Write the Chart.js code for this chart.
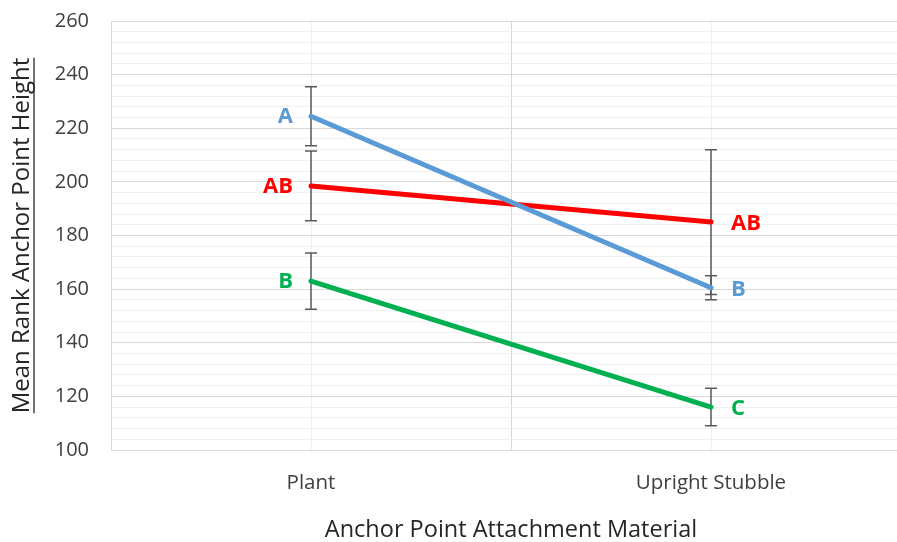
<!DOCTYPE html>
<html>
<head>
<meta charset="utf-8">
<script src="https://cdn.jsdelivr.net/npm/chart.js@4/dist/chart.umd.min.js"></script>
<style>
  html, body { margin: 0; padding: 0; background: #fff; overflow: hidden; }
  #wrap { width: 912px; height: 542px; }
</style>
</head>
<body>
<div id="wrap"><canvas id="rankChart" width="911" height="542"></canvas></div>
<script>
// categories on the x axis
const categories = ['Plant', 'Upright Stubble'];

// mean rank values, one array per line
const blueMeans = [224.5, 160.5];
const redMeans = [198.5, 185];
const greenMeans = [163, 116];

// error bar half widths
const blueErr = [11, 4.5];
const redErr = [13, 27];
const greenErr = [10.5, 7];

// significance letters next to each point
const blueLetters = ['A', 'B'];
const redLetters = ['AB', 'AB'];
const greenLetters = ['B', 'C'];

const FONT = "'Open Sans', 'Liberation Sans', sans-serif";

function toPoints(arr) {
    return arr.map((v, i) => ({ x: i, y: v }));
}

// draws error bars under the lines, using the chart scales
const errorBars = {
    id: 'errorBars',
    beforeDatasetsDraw(chart) {
        const ctx = chart.ctx;
        const xs = chart.scales.x, ys = chart.scales.y;
        ctx.save();
        ctx.strokeStyle = '#595959';
        ctx.lineWidth = 1.5;
        chart.data.datasets.forEach(ds => {
            ds.data.forEach((p, i) => {
                const e = ds.errors[i];
                const px = xs.getPixelForValue(p.x);
                const top = ys.getPixelForValue(p.y + e);
                const bot = ys.getPixelForValue(p.y - e);
                ctx.beginPath();
                ctx.moveTo(px, top); ctx.lineTo(px, bot);
                ctx.moveTo(px - 6, top); ctx.lineTo(px + 6, top);
                ctx.moveTo(px - 6, bot); ctx.lineTo(px + 6, bot);
                ctx.stroke();
            });
        });
        ctx.restore();
    }
};

// letters beside each point, plus the underline of the y title
const letterLabels = {
    id: 'letterLabels',
    afterDraw(chart) {
        const ctx = chart.ctx;
        const xs = chart.scales.x, ys = chart.scales.y;
        ctx.save();
        ctx.font = 'bold 22px ' + FONT;
        ctx.textBaseline = 'middle';
        chart.data.datasets.forEach(ds => {
            ctx.fillStyle = ds.borderColor;
            ds.data.forEach((p, i) => {
                const px = xs.getPixelForValue(p.x);
                const py = ys.getPixelForValue(p.y);
                if (i === 0) {
                    ctx.textAlign = 'right';
                    ctx.fillText(ds.letters[i], px - 18, py + 1);
                } else {
                    ctx.textAlign = 'left';
                    ctx.fillText(ds.letters[i], px + 20, py + 2);
                }
            });
        });

        // underline for the rotated y axis title
        const t = ys.options.title;
        ctx.font = t.font.size + 'px ' + FONT;
        const w = ctx.measureText(t.text).width;
        const cy = (chart.chartArea.top + chart.chartArea.bottom) / 2;
        ctx.strokeStyle = '#262626';
        ctx.lineWidth = 1.3;
        ctx.beginPath();
        ctx.moveTo(34, cy - w / 2);
        ctx.lineTo(34, cy + w / 2);
        ctx.stroke();
        ctx.restore();
    }
};

const ctx = document.getElementById('rankChart').getContext('2d');
new Chart(ctx, {
    type: 'line',
    data: {
        datasets: [
            { data: toPoints(blueMeans), errors: blueErr, letters: blueLetters, borderColor: '#5B9BD5' },
            { data: toPoints(redMeans), errors: redErr, letters: redLetters, borderColor: '#FF0000' },
            { data: toPoints(greenMeans), errors: greenErr, letters: greenLetters, borderColor: '#00B050' }
        ].map(ds => Object.assign(ds, {
            borderWidth: 5,
            pointRadius: 0,
            fill: false,
            tension: 0,
            borderCapStyle: 'round'
        }))
    },
    options: {
        responsive: false,
        animation: false,
        events: [],
        layout: { padding: { top: 21, right: 0, left: 0, bottom: 0 } },
        plugins: { legend: { display: false }, tooltip: { enabled: false } },
        scales: {
            x: {
                type: 'linear',
                min: -0.5,
                max: 1.5,
                afterBuildTicks: s => { s.ticks = [-0.5, 0, 0.5, 1, 1.5].map(v => ({ value: v })); },
                afterFit: s => { s.height = 92; s.paddingLeft = 0; s.paddingRight = 0; },
                border: { color: '#d9d9d9' },
                grid: {
                    drawTicks: false,
                    color: c => Number.isInteger(c.tick.value) ? '#f0f0f0' : '#d9d9d9'
                },
                ticks: {
                    autoSkip: false,
                    maxRotation: 0,
                    padding: 21,
                    color: '#404040',
                    font: { family: FONT, size: 20.5 },
                    callback: v => Number.isInteger(v) ? categories[v] : ''
                },
                title: {
                    display: true,
                    text: 'Anchor Point Attachment Material',
                    color: '#262626',
                    font: { family: FONT, size: 23.5, lineHeight: 1 },
                    padding: { top: 0, bottom: 0 }
                }
            },
            y: {
                min: 100,
                max: 260,
                afterFit: s => { s.width = 111; s.paddingTop = 0; s.paddingBottom = 0; },
                border: { color: '#d9d9d9' },
                grid: {
                    drawTicks: false,
                    color: c => c.tick.value % 20 === 0 ? '#d9d9d9' : '#f0f0f0'
                },
                ticks: {
                    stepSize: 4,
                    autoSkip: false,
                    padding: 22,
                    color: '#404040',
                    font: { family: FONT, size: 20 },
                    callback: v => v % 20 === 0 ? v : ''
                },
                title: {
                    display: true,
                    text: 'Mean Rank Anchor Point Height',
                    color: '#262626',
                    font: { family: FONT, size: 24 },
                    padding: { top: 8, bottom: 0 }
                }
            }
        }
    },
    plugins: [errorBars, letterLabels]
});
</script>
</body>
</html>
